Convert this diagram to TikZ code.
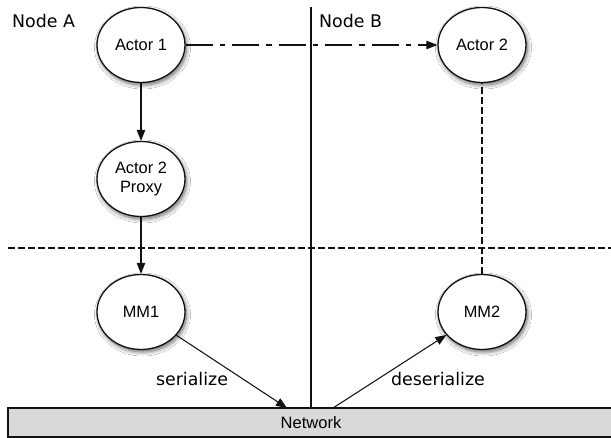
\documentclass[tikz,border=0pt]{standalone}
\usepackage{fontspec}
\setmainfont{Liberation Sans}
\newfontfamily\labfont{DejaVu Sans}
\usetikzlibrary{arrows.meta,shapes.geometric,shadows.blur}
\definecolor{netgray}{HTML}{D9D9D9}
\definecolor{ink}{HTML}{111111}
\begin{document}
\begin{tikzpicture}[x=1pt,y=-1pt,
  actor/.style={ellipse,draw=ink,line width=1.3pt,fill=white,minimum width=88pt,minimum height=75pt,inner sep=0pt,
    font=\fontsize{16.4}{19.7}\selectfont,align=center,
    blur shadow={shadow blur steps=10,shadow xshift=1.5pt,shadow yshift=-2.5pt,shadow blur radius=4pt,shadow opacity=60}},
  lbl/.style={font=\labfont\fontsize{17.4}{20}\selectfont,inner sep=0pt},
  arr/.style={draw=ink,line width=1.05pt,-{Triangle[length=11pt,width=8.5pt]}},
  sep/.style={draw=ink,line width=1.05pt},
  dsep/.style={draw=ink,line width=1.05pt,dash pattern=on 6.5pt off 3.5pt},
  dashdot/.style={dash pattern=on 27pt off 7pt on 5.5pt off 7pt}
]
\useasboundingbox (0,0) rectangle (611,438);
\fill[white] (0,0) rectangle (611,438);

% network bar
\node[draw=ink,line width=1.3pt,fill=netgray,minimum width=606pt,minimum height=29pt,inner sep=0pt,
  font=\fontsize{16.5}{19}\selectfont,
  blur shadow={shadow blur steps=6,shadow xshift=0.5pt,shadow yshift=-1pt,shadow blur radius=1.5pt,shadow opacity=50}]
  (net) at (311,422.5) {Network};

% separators
\coordinate (vtop) at (311,7);
\coordinate (vbot) at (311,408);
\draw[sep] (vtop) -- (vbot);
\coordinate (hl) at (8,248);
\coordinate (hr) at (611,248);
\draw[dsep] (hl) -- (hr);

% actors
\node[actor] (a1) at (141,45) {Actor 1};
\node[actor] (a2) at (482,45) {Actor 2};
\node[actor] (px) at (141,179) {Actor 2\\Proxy};
\node[actor] (mm1) at (141,312) {MM1};
\node[actor] (mm2) at (482,312) {MM2};

% labels
\node[lbl,anchor=base west] (na) at (12,28) {Node A};
\node[lbl,anchor=base west] (nb) at (319,28) {Node B};
\node[lbl,anchor=base] (ser) at (192,386) {serialize};
\node[lbl,anchor=base] (des) at (438,386) {deserialize};

% connectors
\draw[arr,dashdot] (a1) -- (a2);
\draw[arr] (a1) -- (px);
\draw[arr] (px) -- (mm1);
\coordinate (netin) at (287,408);
\coordinate (netout) at (333,408);
\draw[arr] (mm1) -- (netin);
\draw[arr] (netout) -- (mm2);
\draw[dsep] (mm2) -- (a2);
\end{tikzpicture}
\end{document}
